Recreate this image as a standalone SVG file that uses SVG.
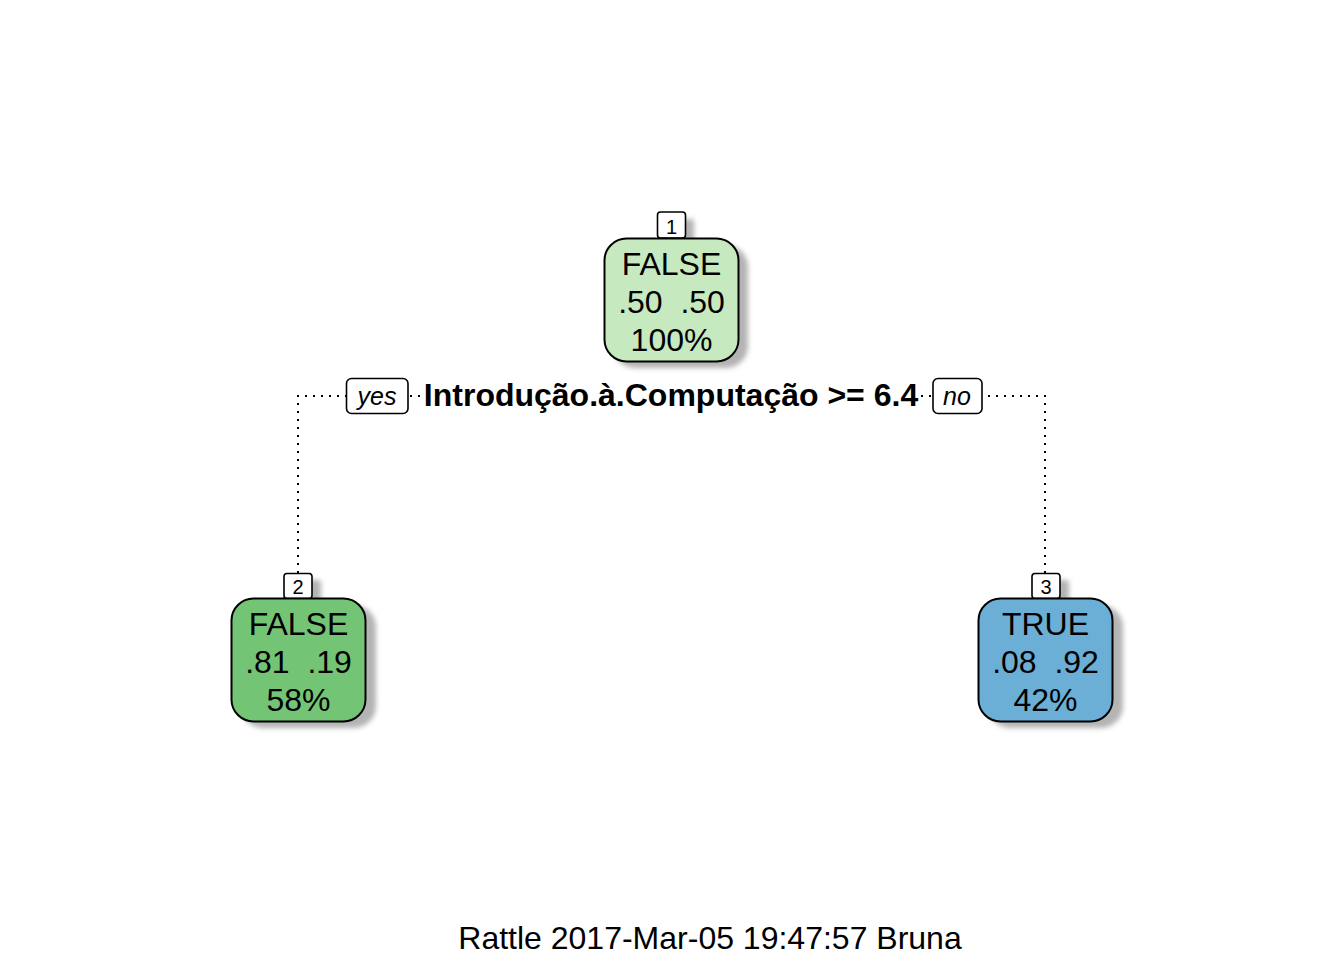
<svg xmlns="http://www.w3.org/2000/svg" width="1344" height="960" viewBox="0 0 1344 960">
<style>
text{font-family:"Liberation Sans",Arial,sans-serif;fill:#000}
.nt{font-size:32px;text-anchor:middle}
.lab{font-size:20px;text-anchor:middle}
.yn{font-size:25px;font-style:italic;text-anchor:middle}
.split{font-size:32px;font-weight:bold;text-anchor:middle}
.foot{font-size:32px;text-anchor:middle}
.box{stroke:#000;stroke-width:2}
.shadow{fill:#B4B4B4;filter:url(#blur)}
.conn{fill:none;stroke:#000;stroke-width:2;stroke-dasharray:2 6}
.tag{fill:#fff;stroke:#000;stroke-width:1.6}
</style>
<defs>
<filter id="blur" x="-20%" y="-20%" width="140%" height="140%"><feGaussianBlur stdDeviation="2.5"/></filter>
</defs>
<rect width="1344" height="960" fill="#fff"/>
<g id="connectors">
<path class="conn" d="M298,573 V396 H346"/>
<path class="conn" d="M410,396 H421"/>
<path class="conn" d="M921,396 H932"/>
<path class="conn" d="M1045,573 V396 H983"/>
</g>
<g id="split-label">
<rect x="346.5" y="378.5" width="61.5" height="35" rx="5" class="tag"/>
<text x="377" y="405" class="yn">yes</text>
<text x="671" y="406" class="split">Introdução.à.Computação &gt;= 6.4</text>
<rect x="933" y="378.5" width="49" height="35" rx="5" class="tag"/>
<text x="957" y="405" class="yn">no</text>
</g>
<g id="node1">
<rect x="666" y="219" width="28" height="26" rx="3" class="shadow"/>
<rect x="613" y="245" width="135" height="123" rx="22" class="shadow"/>
<rect x="657.5" y="212" width="28" height="26" rx="3" class="tag"/>
<text x="671.5" y="234" class="lab">1</text>
<rect x="604.5" y="238.5" width="134" height="123" rx="22" fill="#C7E9C0" class="box"/>
<text x="671.5" y="275" class="nt">FALSE</text>
<text x="671.5" y="313" xml:space="preserve" class="nt">.50  .50</text>
<text x="671.5" y="351" class="nt">100%</text>
</g>
<g id="node2">
<rect x="293" y="580" width="28" height="25" rx="3" class="shadow"/>
<rect x="241" y="605" width="135" height="123" rx="22" class="shadow"/>
<rect x="284" y="573.5" width="28" height="25" rx="3" class="tag"/>
<text x="298" y="594" class="lab">2</text>
<rect x="231.5" y="598.5" width="134" height="123" rx="22" fill="#74C476" class="box"/>
<text x="298.5" y="635" class="nt">FALSE</text>
<text x="298.5" y="673" xml:space="preserve" class="nt">.81  .19</text>
<text x="298.5" y="711" class="nt">58%</text>
</g>
<g id="node3">
<rect x="1041" y="580" width="28" height="25" rx="3" class="shadow"/>
<rect x="988" y="605" width="135" height="123" rx="22" class="shadow"/>
<rect x="1032" y="573.5" width="28" height="25" rx="3" class="tag"/>
<text x="1046" y="594" class="lab">3</text>
<rect x="978.5" y="598.5" width="134" height="123" rx="22" fill="#6BAED6" class="box"/>
<text x="1045.5" y="635" class="nt">TRUE</text>
<text x="1045.5" y="673" xml:space="preserve" class="nt">.08  .92</text>
<text x="1045.5" y="711" class="nt">42%</text>
</g>
<text x="710" y="949" class="foot">Rattle 2017-Mar-05 19:47:57 Bruna</text>
</svg>
